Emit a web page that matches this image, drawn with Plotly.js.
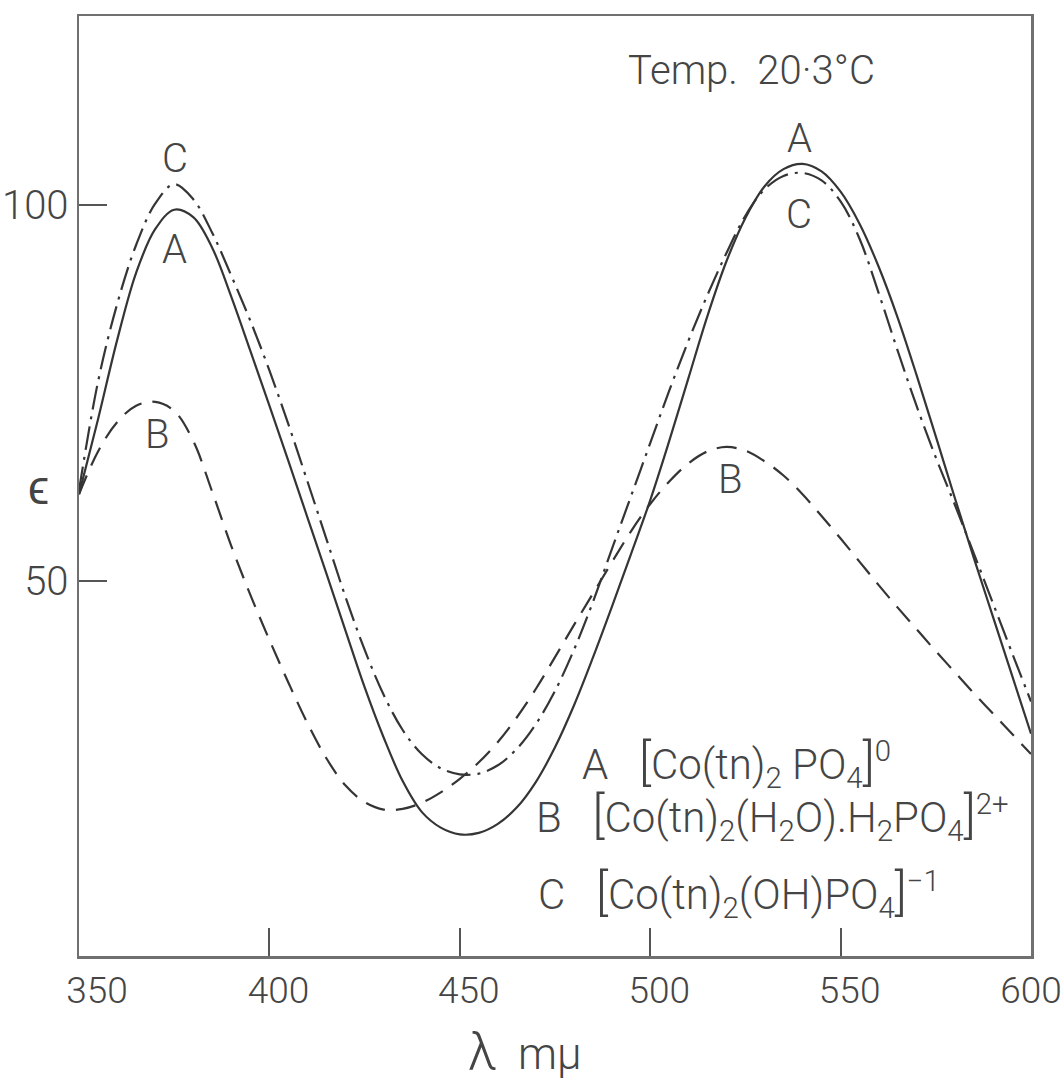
<!DOCTYPE html>
<html>
<head>
<meta charset="utf-8">
<script src="https://cdn.plot.ly/plotly-3.0.1.min.js"></script>
<style>html,body{margin:0;padding:0;background:#fff;}#chart{width:1063px;height:1083px;}</style>
</head>
<body>
<div id="chart"></div>
<script>
// wavelength, m\u03bc
const wavelength = [350,355,360,365,370,375,380,385,390,395,400,405,410,415,420,425,430,435,440,445,450,455,460,465,470,475,480,485,490,495,500,505,510,515,520,525,530,535,540,545,550,555,560,565,570,575,580,585,590,595,600];
// A  [Co(tn)2 PO4]0  (solid)
const epsA = [61.5,71.5,82,91,96.8,99.4,98.4,94.3,87.8,80.6,73.3,65.9,58.4,50.9,43.3,35.8,29.1,23.3,19.2,17.1,16.2,16.4,17.6,19.8,23.2,27.8,33.4,39.8,46.6,53.6,60.7,68.6,76.9,85.2,92.5,98.3,102.5,104.8,105.5,104.5,101.8,97.5,91.8,85,77.3,69.2,61,53,45.2,37.4,29.6];
// B  [Co(tn)2(H2O).H2PO4]2+  (dashed)
const epsB = [61.5,67.2,71.1,73.3,73.8,72.6,68.6,61.8,54.6,48.1,42.1,36.4,31,26.3,22.7,20.5,19.5,19.6,20.4,21.8,23.6,25.8,28.5,31.8,35.6,39.8,44.1,48.3,52.5,56.6,60.2,63.2,65.6,67.2,67.8,67.3,65.9,64,61.5,58.6,55.6,52.5,49.4,46.4,43.5,40.6,37.8,35,32.3,29.6,26.9];
// C  [Co(tn)2(OH)PO4]-1  (dash-dot)
const epsC = [62,76.5,86.8,94.7,100.2,102.8,100.8,96.3,90.6,84.6,78,70.8,63.2,55.5,47.8,40.8,34.8,30.1,26.9,25,24.2,24.3,25.4,27.6,30.9,35.3,40.8,47.2,54.3,61.3,68.3,75.3,81.9,88,93.6,98.6,102.1,103.9,104.3,103.3,100.5,95.5,88.3,80.6,73.2,66.4,60.1,53.6,47,40.4,33.9];

const NB = "\u00a0";
const xTicks = [350,400,450,500,550,600];
const xTickText = [NB.repeat(4) + "350", NB + NB + "400", NB + NB + "450", NB + NB + "500", NB + NB + "550", "600"];
const yTicks = [50,100];
const yTickText = ["50","100"];

const FONT = "Roboto, Open Sans, Liberation Sans, sans-serif";
const WEIGHT = 300;
const TXT = "#454545";
const LINE = "#353535";

const traces = [
  {x: wavelength, y: epsA, name: "A", mode: "lines", line: {color: LINE, width: 2.2, shape: "spline", smoothing: 1}},
  {x: wavelength, y: epsB, name: "B", mode: "lines", line: {color: LINE, width: 2.2, dash: "20px,11px", shape: "spline", smoothing: 1}},
  {x: wavelength, y: epsC, name: "C", mode: "lines", line: {color: LINE, width: 2.2, dash: "24px,7px,3px,7px", shape: "spline", smoothing: 1}}
];

const big = s => '<span style="font-size:50px">' + s + '</span>';
const fnt = (size) => ({family: FONT, size: size, color: TXT, weight: WEIGHT});
const ann = (text, x, y, opts) => Object.assign({text, x, y, xref: "x", yref: "y", showarrow: false,
  font: fnt(40)}, opts || {});

const layout = {
  width: 1063, height: 1083,
  margin: {l: 79, r: 32, t: 16, b: 127, pad: 0},
  paper_bgcolor: "#ffffff", plot_bgcolor: "#ffffff",
  showlegend: false,
  xaxis: {
    range: [350, 600], tickvals: xTicks, ticktext: xTickText,
    ticks: "inside", ticklen: 28, tickwidth: 2, tickcolor: "#555",
    showline: true, linecolor: "#707070", linewidth: 2.5, mirror: true,
    showgrid: false, zeroline: false, ticklabeloverflow: "allow",
    tickfont: fnt(37)
  },
  yaxis: {
    range: [0, 125.2], tickvals: yTicks, ticktext: yTickText,
    ticks: "inside", ticklen: 28, tickwidth: 2, tickcolor: "#555",
    showline: true, linecolor: "#707070", linewidth: 2.5, mirror: true,
    showgrid: false, zeroline: false,
    tickfont: fnt(40)
  },
  annotations: [
    ann("Temp." + NB + NB + "20\u00b73\u00b0C", 526.7, 118),
    ann("C", 375.2, 106.2),
    ann("A", 375.2, 94.1),
    ann("B", 370.5, 69.4),
    ann("A", 539.3, 108.9),
    ann("C", 539.1, 98.7),
    ann("B", 521, 63.4),
    ann("A" + NB + NB + NB + big("[") + "Co(tn)<sub>2</sub> PO<sub>4</sub>" + big("]") + "<sup>0</sup>", 481.5, 25.6, {xanchor: "left", yanchor: "middle", font: fnt(42)}),
    ann("B" + NB + NB + NB + big("[") + "Co(tn)<sub>2</sub>(H<sub>2</sub>O).H<sub>2</sub>PO<sub>4</sub>" + big("]") + "<sup>2+</sup>", 469.6, 18.5, {xanchor: "left", yanchor: "middle", font: fnt(42)}),
    ann("C" + NB + NB + NB + big("[") + "Co(tn)<sub>2</sub>(OH)PO<sub>4</sub>" + big("]") + "<sup>\u22121</sup>", 469.9, 8.3, {xanchor: "left", yanchor: "middle", font: fnt(42)}),
    {text: "\u03f5", xref: "paper", yref: "paper", x: -0.056, y: 0.498, showarrow: false, font: fnt(48)},
    {text: '<span style="font-size:52px">\u03bb</span>' + NB + NB + "m\u03bc", xref: "paper", yref: "paper",
     x: 0.4685, y: -0.102, xanchor: "center", yanchor: "middle", showarrow: false, font: fnt(44)}
  ]
};

Plotly.newPlot("chart", traces, layout, {displayModeBar: false, staticPlot: true});
</script>
</body>
</html>
